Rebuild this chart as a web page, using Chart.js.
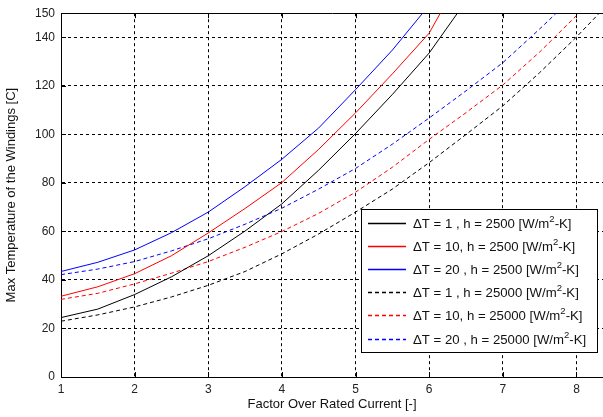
<!DOCTYPE html>
<html lang="en">
<head>
    <meta charset="UTF-8">
    <title>Max Winding Temperature vs Overcurrent</title>
    <script src="https://cdn.jsdelivr.net/npm/chart.js"></script>
    <style>
        body { margin: 0; background: #fff; }
        canvas { display: block; }
    </style>
</head>

<body>
    <canvas id="tempChart" width="603" height="417"></canvas>

    <script>
        // factor over rated current (sample points)
        const factor = [1, 1.5, 2, 2.5, 3, 3.5, 4, 4.5, 5, 5.5, 6, 6.5, 7, 7.5, 8, 8.5];

        // max winding temperature [C], h = 2500 W/m2-K
        const dT1_h2500  = [24.5, 28.0, 34.0, 41.3, 50.0, 60.2, 71.4, 85.3, 100.4, 116.5, 133.6, 155.0];
        const dT10_h2500 = [33.3, 37.2, 42.6, 50.0, 59.4, 69.5, 80.2, 93.9, 108.9, 125.0, 141.8, 169.0];
        const dT20_h2500 = [43.5, 47.3, 52.4, 59.5, 68.0, 78.5, 89.8, 102.7, 118.5, 134.8, 153.3];

        // max winding temperature [C], h = 25000 W/m2-K
        const dT1_h25000  = [23.0, 25.6, 28.9, 33.0, 37.8, 43.5, 50.8, 59.0, 68.0, 77.5, 88.4, 100.0, 111.8, 125.5, 140.2, 156.0];
        const dT10_h25000 = [32.0, 34.5, 38.4, 42.8, 47.6, 53.5, 60.0, 67.5, 76.2, 86.5, 98.0, 109.0, 120.4, 134.0, 149.0, 165.0];
        const dT20_h25000 = [42.2, 44.5, 47.6, 52.0, 57.0, 63.0, 69.6, 77.5, 86.0, 96.0, 106.8, 118.0, 129.6, 143.5, 158.0];

        const labels = [
            'ΔT = 1 , h = 2500 [W/m²-K]',
            'ΔT = 10, h = 2500 [W/m²-K]',
            'ΔT = 20 , h = 2500 [W/m²-K]',
            'ΔT = 1 , h = 25000 [W/m²-K]',
            'ΔT = 10, h = 25000 [W/m²-K]',
            'ΔT = 20 , h = 25000 [W/m²-K]'
        ];
        const lineColors = ['#000000', '#ff0000', '#0000ff', '#000000', '#ff0000', '#0000ff'];
        const lineDashes = [[], [], [], [4, 3], [4, 3], [4, 3]];

        const xTicks = [1, 2, 3, 4, 5, 6, 7, 8];
        const yTicks = [0, 20, 40, 60, 80, 100, 120, 140, 150];

        const FONT = 'Liberation Sans, Arial, sans-serif';

        function points(ys) {
            return ys.map((y, i) => ({ x: factor[i], y: y }));
        }

        function series(i, ys) {
            return {
                label: labels[i],
                data: points(ys),
                borderColor: lineColors[i],
                backgroundColor: lineColors[i],
                borderWidth: 1,
                borderDash: lineDashes[i].slice(),
                pointRadius: 0,
                fill: false,
                tension: 0
            };
        }

        // small inward tick marks, like a boxed axis
        const innerTicks = {
            id: 'innerTicks',
            afterDraw(chart) {
                const { ctx, chartArea: a, scales: { x, y } } = chart;
                ctx.save();
                ctx.strokeStyle = '#000';
                ctx.lineWidth = 1;
                ctx.beginPath();
                xTicks.forEach(v => {
                    const px = Math.round(x.getPixelForValue(v)) + 0.5;
                    ctx.moveTo(px, a.bottom); ctx.lineTo(px, a.bottom - 5);
                    ctx.moveTo(px, a.top); ctx.lineTo(px, a.top + 5);
                });
                yTicks.forEach(v => {
                    const py = Math.round(y.getPixelForValue(v)) + 0.5;
                    ctx.moveTo(a.left, py); ctx.lineTo(a.left + 5, py);
                });
                ctx.stroke();
                ctx.restore();
            }
        };

        // boxed legend in the lower right corner of the plot
        const boxLegend = {
            id: 'boxLegend',
            afterDraw(chart) {
                const { ctx, chartArea: a } = chart;
                const w = 236, h = 143;
                const left = a.right - 6 - w;
                const top = a.bottom - 25 - h;
                ctx.save();
                ctx.setLineDash([]);
                ctx.fillStyle = '#fff';
                ctx.fillRect(left, top, w, h);
                ctx.strokeStyle = '#000';
                ctx.lineWidth = 1;
                ctx.strokeRect(Math.round(left) + 0.5, Math.round(top) + 0.5, w, h);

                for (let i = 0; i < labels.length; i++) {
                    const cy = Math.round(top + 14 + i * 23.1) + 0.5;

                    ctx.save();
                    ctx.beginPath();
                    ctx.strokeStyle = lineColors[i];
                    ctx.lineWidth = 1.5;
                    ctx.setLineDash(lineDashes[i]);
                    ctx.moveTo(left + 7, cy);
                    ctx.lineTo(left + 45, cy);
                    ctx.stroke();
                    ctx.restore();

                    // label with a raised "2" for m^2
                    const parts = labels[i].split('²');
                    let tx = left + 52;
                    ctx.fillStyle = '#111';
                    ctx.textBaseline = 'middle';
                    ctx.font = '13.2px ' + FONT;
                    ctx.fillText(parts[0], tx, cy + 1);
                    tx += ctx.measureText(parts[0]).width;
                    ctx.font = '9.5px ' + FONT;
                    ctx.fillText('2', tx, cy - 4);
                    tx += ctx.measureText('2').width;
                    ctx.font = '13.2px ' + FONT;
                    ctx.fillText(parts[1], tx, cy + 1);
                }
                ctx.restore();
            }
        };

        const ctx = document.getElementById('tempChart').getContext('2d');

        new Chart(ctx, {
            type: 'line',
            data: {
                datasets: [
                    series(0, dT1_h2500),
                    series(1, dT10_h2500),
                    series(2, dT20_h2500),
                    series(3, dT1_h25000),
                    series(4, dT10_h25000),
                    series(5, dT20_h25000)
                ]
            },
            options: {
                responsive: false,
                animation: false,
                layout: { padding: { top: 9, right: 0, bottom: 0, left: 0 } },
                plugins: {
                    legend: { display: false },
                    tooltip: { enabled: false }
                },
                scales: {
                    x: {
                        type: 'linear',
                        min: 1,
                        max: 8.36,
                        afterBuildTicks: scale => { scale.ticks = xTicks.map(v => ({ value: v })); },
                        afterFit: scale => { scale.height = 40; },
                        ticks: {
                            color: '#222',
                            padding: 5,
                            maxRotation: 0,
                            font: { family: FONT, size: 12 }
                        },
                        grid: { color: '#000', lineWidth: 1, drawTicks: false },
                        border: { color: '#000', width: 1, dash: [3, 3] },
                        title: {
                            display: true,
                            text: 'Factor Over Rated Current [-]',
                            color: '#111',
                            font: { family: FONT, size: 13 },
                            padding: { top: 0, bottom: 5 }
                        }
                    },
                    y: {
                        min: 0,
                        max: 150,
                        afterBuildTicks: scale => { scale.ticks = yTicks.map(v => ({ value: v })); },
                        afterFit: scale => { scale.width = 61; },
                        ticks: {
                            color: '#222',
                            padding: 6,
                            font: { family: FONT, size: 12 }
                        },
                        grid: { color: '#000', lineWidth: 1, drawTicks: false },
                        border: {
                            color: '#000',
                            width: 1,
                            dash: c => (c.tick && c.tick.value === 150 ? [] : [3, 3])
                        },
                        title: {
                            display: true,
                            text: 'Max Temperature of the Windings [C]',
                            color: '#111',
                            font: { family: FONT, size: 13 },
                            padding: { top: 4, bottom: 0 }
                        }
                    }
                }
            },
            plugins: [innerTicks, boxLegend]
        });
    </script>
</body>
</html>
